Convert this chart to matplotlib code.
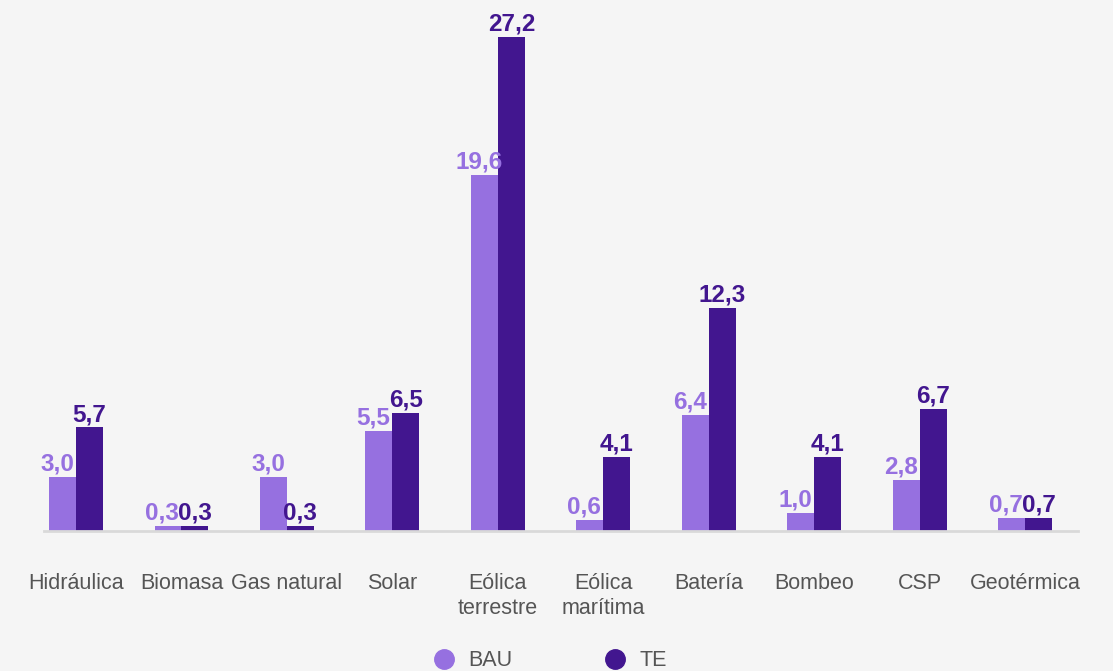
import matplotlib.pyplot as plt
from matplotlib.lines import Line2D
import numpy as np

plt.rcParams['font.family'] = ['Liberation Sans', 'DejaVu Sans']

# --- Data ---
categories = ["Hidráulica", "Biomasa", "Gas natural", "Solar", "Eólica\nterrestre",
              "Eólica\nmarítima", "Batería", "Bombeo", "CSP", "Geotérmica"]
bau = [3.0, 0.3, 3.0, 5.5, 19.6, 0.6, 6.4, 1.0, 2.8, 0.7]
te = [5.7, 0.3, 0.3, 6.5, 27.2, 4.1, 12.3, 4.1, 6.7, 0.7]

BAU_COLOR = "#9670E0"
TE_COLOR = "#42168F"
BG = "#F5F5F5"

fig = plt.figure(figsize=(11.13, 6.71), dpi=100, facecolor=BG)
ax = fig.add_axes([44 / 1113, 140 / 671, (1078 - 44) / 1113, (531 - 22.5) / 671])
ax.set_facecolor(BG)

x = np.arange(len(categories))
w = 0.255
b1 = ax.bar(x - w / 2, bau, w, color=BAU_COLOR)
b2 = ax.bar(x + w / 2, te, w, color=TE_COLOR)

fmt = lambda v: f"{v:.1f}".replace(".", ",")
for rect, v in zip(b1, bau):
    ax.annotate(fmt(v), (rect.get_x() + rect.get_width() / 2, v), xytext=(-4, 1),
                textcoords="offset points", ha="center", va="bottom",
                color=BAU_COLOR, fontsize=17.5, fontweight="bold")
for rect, v in zip(b2, te):
    ax.annotate(fmt(v), (rect.get_x() + rect.get_width() / 2, v), xytext=(0, 1),
                textcoords="offset points", ha="center", va="bottom",
                color=TE_COLOR, fontsize=17.5, fontweight="bold")

ax.set_xlim(-0.303, 9.5)
ax.set_ylim(0, 28)
ax.set_xticks(x)
ax.set_xticklabels(categories, fontsize=15.5, color="#555555", linespacing=1.3)
ax.tick_params(axis="x", length=0, pad=30)
ax.set_yticks([])
for s in ["top", "right", "left"]:
    ax.spines[s].set_visible(False)
ax.spines["bottom"].set_color("#D9D9D9")
ax.spines["bottom"].set_linewidth(2)

handles = [Line2D([], [], marker="o", ls="", markersize=14, color=BAU_COLOR),
           Line2D([], [], marker="o", ls="", markersize=14, color=TE_COLOR)]
fig.legend(handles, ["BAU", "TE"], loc="center", bbox_to_anchor=(550 / 1113, 1 - 661 / 671),
           ncol=2, frameon=False, fontsize=15.5, labelcolor="#555555",
           handlelength=1.0, handletextpad=0.6, columnspacing=4.3)

plt.savefig("out.png", dpi=100, facecolor=BG)
